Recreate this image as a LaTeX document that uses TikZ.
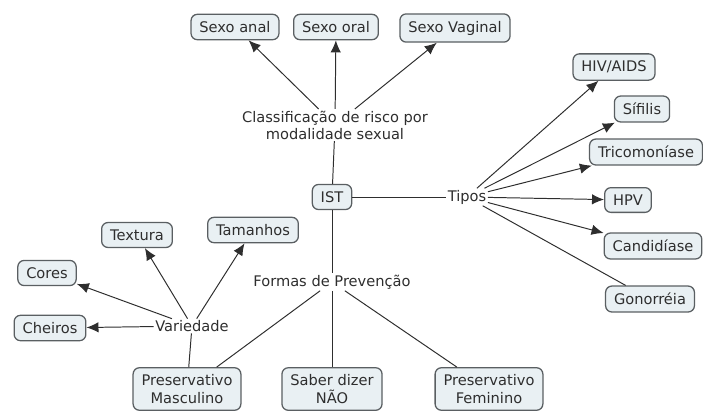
\documentclass[tikz,border=0pt]{standalone}
\usepackage{fontspec}
\setmainfont{DejaVu Sans}
\usepackage{xcolor}
\usetikzlibrary{arrows.meta,positioning}
\definecolor{ink}{HTML}{2E2E2E}
\definecolor{boxfill}{HTML}{E9F0F3}
\definecolor{boxline}{HTML}{5A5F62}

\begin{document}
\begin{tikzpicture}[x=0.025cm,y=-0.025cm]
    \tikzset{
      concept/.style={rounded corners=4.5pt,draw=boxline,line width=0.9pt,fill=boxfill,align=center,font=\fontsize{10.4}{12.2}\selectfont,inner xsep=6pt,inner ysep=5pt,text=ink},
      phrase/.style={align=center,font=\fontsize{10.4}{12.2}\selectfont,inner sep=1pt,text=ink},
      link/.style={draw=ink,line width=0.7pt},
      arrow/.style={link,-{Latex[length=3mm,width=2.6mm]}}
    }
    \useasboundingbox (0,0) rectangle (703,410);
    % centre
    \node[concept] (ist) at (332,197) {IST};
    \node[phrase] (clas) at (335,125) {Classificação de risco por\\modalidade sexual};
    \node[phrase] (tipos) at (467,197) {Tipos};
    \node[phrase] (formas) at (332,282) {Formas de Prevenção};
    % risco
    \node[concept] (anal) at (235,27) {Sexo anal};
    \node[concept] (oral) at (336,27) {Sexo oral};
    \node[concept] (vaginal) at (455,28) {Sexo Vaginal};
    % tipos
    \node[concept] (hiv) at (614,67) {HIV/AIDS};
    \node[concept] (sifilis) at (642,109) {Sífilis};
    \node[concept] (trico) at (646,152) {Tricomoníase};
    \node[concept] (hpv) at (628,200) {HPV};
    \node[concept] (candi) at (653,246) {Candidíase};
    \node[concept] (gono) at (650,299) {Gonorréia};
    % prevencao
    \node[concept] (masc) at (187,389) {Preservativo\\Masculino};
    \node[concept] (nao) at (332,389) {Saber dizer\\NÃO};
    \node[concept] (fem) at (489,389) {Preservativo\\Feminino};
    \node[phrase] (variedade) at (192,326) {Variedade};
    \node[concept] (cheiros) at (50,328) {Cheiros};
    \node[concept] (cores) at (47,273) {Cores};
    \node[concept] (textura) at (137,235) {Textura};
    \node[concept] (tamanhos) at (253,230) {Tamanhos};
    % ligacoes
    \draw[link] (ist) -- (clas);
    \draw[link] (ist) -- (tipos);
    \draw[link] (ist) -- (formas);
    \draw[arrow] (clas) -- (anal);
    \draw[arrow] (clas) -- (oral);
    \draw[arrow] (clas) -- (vaginal);
    \draw[arrow] (tipos) -- (hiv);
    \draw[arrow] (tipos) -- (sifilis);
    \draw[arrow] (tipos) -- (trico);
    \draw[arrow] (tipos) -- (hpv);
    \draw[arrow] (tipos) -- (candi);
    \draw[link] (tipos) -- (gono);
    \draw[link] (formas) -- (masc);
    \draw[link] (formas) -- (nao);
    \draw[link] (formas) -- (fem);
    \draw[link] (masc) -- (variedade);
    \draw[arrow] (variedade) -- (cheiros);
    \draw[arrow] (variedade) -- (cores);
    \draw[arrow] (variedade) -- (textura);
    \draw[arrow] (variedade) -- (tamanhos);
\end{tikzpicture}
\end{document}
